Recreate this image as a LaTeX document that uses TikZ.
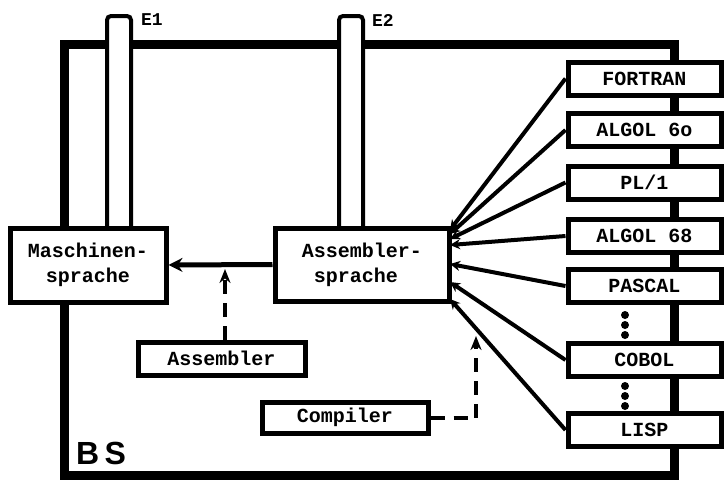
\documentclass[tikz,border=0pt]{standalone}
\usepackage{fontspec}
\setmonofont{Liberation Mono}
\setsansfont{Liberation Sans}
\usetikzlibrary{arrows.meta}
\begin{document}
\begin{tikzpicture}[x=0.5pt,y=-0.5pt,
  box/.style={draw, line width=2.5pt, fill=white, font=\ttfamily\bfseries\fontsize{10}{12.5}\selectfont, inner sep=0pt, align=center},
  langbox/.style={box, minimum width=76.5pt, minimum height=16.5pt},
  colm/.style={draw, line width=2pt, rounded corners=2pt},
  frame/.style={draw, line width=4.5pt, line join=miter},
  fan/.style={line width=2pt, -{Stealth[length=5pt,width=5pt]}},
  mainarrow/.style={line width=2.5pt, -{Stealth[length=7pt,width=7pt]}},
  dasharrow/.style={line width=2pt, dash pattern=on 7pt off 4.5pt, -{Stealth[length=7pt,width=5.5pt]}},
  dotmark/.style={circle, fill=black, inner sep=0pt, minimum size=4pt}
]
\useasboundingbox (0,0) rectangle (725,483);
% outer frame
\draw[frame] (64,44) rectangle (674,475);
% columns E1, E2
\fill[white] (107,228) rectangle (131,16);
\draw[colm] (107,228) -- (107,16) -- (131,16) -- (131,228);
\fill[white] (339,228) rectangle (363,16);
\draw[colm] (339,228) -- (339,16) -- (363,16) -- (363,228);
\node[font=\ttfamily\bfseries\fontsize{9}{9}\selectfont] (e1) at (152,20) {E1};
\node[font=\ttfamily\bfseries\fontsize{9}{9}\selectfont] (e2) at (383,20) {E2};
% main boxes
\node[box, minimum width=78pt, minimum height=37pt] (ms) at (88,265) {Maschinen-\\sprache};
\node[box, minimum width=87pt, minimum height=36.5pt] (as) at (362,264.5) {Assembler-\\sprache\hspace*{0.6em}};
\node[box, minimum width=83.5pt, minimum height=16.5pt] (asm) at (221.5,358.5) {Assembler};
\node[box, minimum width=83pt, minimum height=15.5pt] (comp) at (345,417.5) {Compiler};
% language boxes
\node[langbox] (fortran) at (644.5,78.5) {FORTRAN};
\node[langbox] (algolsixty) at (644.5,130) {ALGOL 6o};
\node[langbox] (plone) at (644.5,182.5) {PL/1};
\node[langbox] (algolsixtyeight) at (644.5,236) {ALGOL 68};
\node[langbox] (pascal) at (644.5,286) {PASCAL};
\node[langbox] (cobol) at (644.5,360) {COBOL};
\node[langbox] (lisp) at (644.5,430) {LISP};
% dots
\node[dotmark] (da) at (625,315) {};
\node[dotmark] (db) at (625,325) {};
\node[dotmark] (dc) at (625,335) {};
\node[dotmark] (dd) at (625,386) {};
\node[dotmark] (de) at (625,396) {};
\node[dotmark] (df) at (625,406) {};
% BS label
\node[font=\sffamily\bfseries\fontsize{16}{16}\selectfont] (bs) at (101,453) {B\,S};
% fan endpoints on Assemblersprache
\coordinate (f1) at (450,230);
\coordinate (f2) at (450,234);
\coordinate (f3) at (450,239);
\coordinate (f4) at (450,245);
\coordinate (f5) at (450,264);
\coordinate (f6) at (450,282);
\coordinate (f7) at (450,299);
\draw[fan] (fortran.west) -- (f1);
\draw[fan] (algolsixty.west) -- (f2);
\draw[fan] (plone.west) -- (f3);
\draw[fan] (algolsixtyeight.west) -- (f4);
\draw[fan] (pascal.west) -- (f5);
\draw[fan] (cobol.west) -- (f6);
\draw[fan] (lisp.west) -- (f7);
% main arrow
\draw[mainarrow] (as.west) -- (ms.east);
% assembler dashed
\coordinate (asmtip) at (225,269);
\draw[dasharrow] (asmtip |- asm.north) -- (asmtip);
% compiler dashed
\coordinate (cbend) at (476,417.5);
\coordinate (ctip) at (476,336);
\draw[line width=2pt, dash pattern=on 7pt off 4.5pt] (comp.east) -- (cbend);
\draw[dasharrow] (cbend) -- (ctip);
\end{tikzpicture}
\end{document}
